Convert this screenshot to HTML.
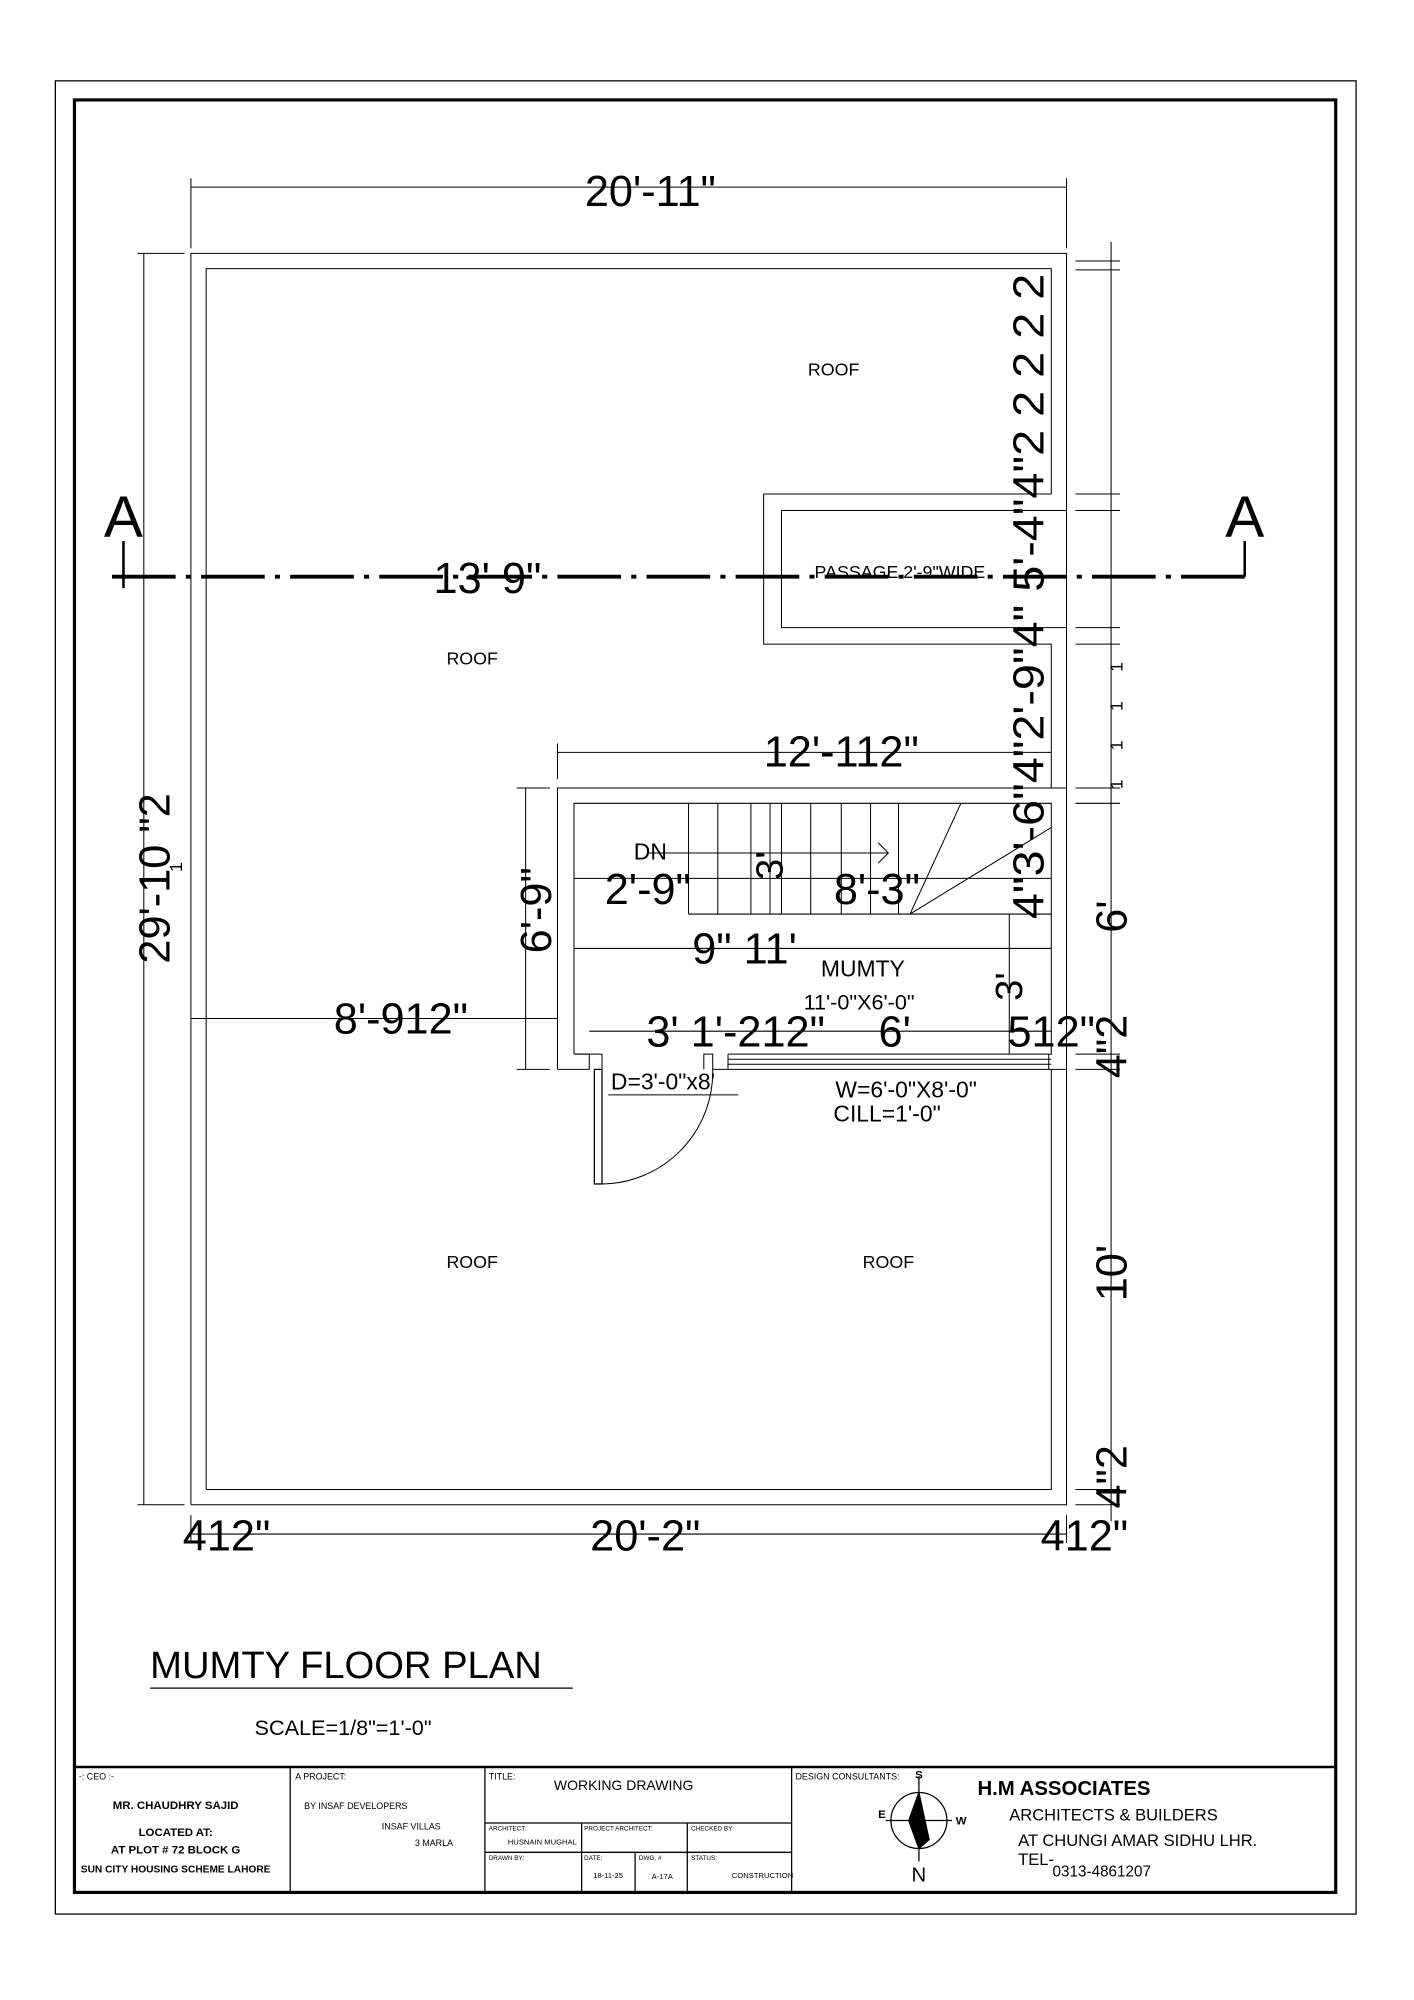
<!DOCTYPE html>
<html><head><meta charset="utf-8"><style>
html,body{margin:0;padding:0;background:#fff;}
svg{display:block}
text{font-family:"Liberation Sans",sans-serif;fill:#000}
.d{font-size:34px}
.c{font-family:"Liberation Sans Narrow","Liberation Sans",sans-serif}
</style></head><body>
<svg width="1414" height="2000" viewBox="0 0 1111 1571" preserveAspectRatio="none" xmlns="http://www.w3.org/2000/svg">
<rect width="1111" height="1571" fill="#fff"/>
<g fill="none" stroke="#000">
<rect x="43.5" y="63.5" width="1022" height="1440" stroke-width="1"/>
<rect x="58.5" y="78.5" width="991" height="1408" stroke-width="2.5"/>
<g stroke-width="0.8">
<polyline points="150,1182 838,1182 838,199 150,199 150,1182"/>
<polyline points="162,1170 826,1170 826,840"/>
<polyline points="162,1170 162,211 826,211 826,388 600,388 600,506 826,506 826,619"/>
<polyline points="614,401 838,401"/><polyline points="614,401 614,493 838,493"/>
<polyline points="438,840 438,619 838,619"/>
<polyline points="451,828 451,631 826,631 826,828 572,828"/>
<polyline points="438,840 463,840"/><polyline points="560,840 838,840"/>
<polyline points="451,828 463,828 463,840"/><polyline points="473,840 473,828 451,828"/>
<polyline points="560,840 560,828 553,828 553,840"/>
<line x1="572" y1="832" x2="826" y2="832"/><line x1="572" y1="836" x2="826" y2="836"/>
<line x1="572" y1="828" x2="572" y2="840"/><line x1="824" y1="828" x2="824" y2="840"/>
<line x1="541" y1="631" x2="541" y2="718"/><line x1="541" y1="718" x2="826" y2="718"/>
<line x1="564" y1="631" x2="564" y2="718"/><line x1="590" y1="631" x2="590" y2="718"/>
<line x1="614" y1="631" x2="614" y2="718"/><line x1="637" y1="631" x2="637" y2="718"/>
<line x1="661" y1="631" x2="661" y2="718"/><line x1="684" y1="631" x2="684" y2="718"/>
<line x1="706" y1="631" x2="706" y2="718"/>
<line x1="715" y1="718" x2="755" y2="631"/><line x1="715" y1="718" x2="826" y2="650"/>
<line x1="510" y1="670" x2="698" y2="670"/><polyline points="690,662 698,670 690,678"/>
<rect x="467" y="840" width="6" height="90" stroke-width="1"/>
<path d="M473,930 A88,88 0 0 0 560,840"/>
<line x1="478" y1="860" x2="580" y2="860"/>
<line x1="150" y1="147" x2="838" y2="147"/><line x1="150" y1="140" x2="150" y2="195"/><line x1="838" y1="140" x2="838" y2="195"/>
<line x1="113" y1="199" x2="113" y2="1182"/><line x1="108" y1="199" x2="145" y2="199"/><line x1="108" y1="1182" x2="145" y2="1182"/>
<line x1="150" y1="1205" x2="838" y2="1205"/><line x1="150" y1="1190" x2="150" y2="1212"/><line x1="838" y1="1190" x2="838" y2="1212"/>
<line x1="873" y1="190" x2="873" y2="1195"/>
<line x1="845" y1="205" x2="880" y2="205"/><line x1="845" y1="212" x2="880" y2="212"/>
<line x1="845" y1="388" x2="880" y2="388"/><line x1="845" y1="401" x2="880" y2="401"/>
<line x1="845" y1="493" x2="880" y2="493"/><line x1="845" y1="506" x2="880" y2="506"/>
<line x1="845" y1="619" x2="880" y2="619"/><line x1="845" y1="631" x2="880" y2="631"/>
<line x1="845" y1="828" x2="880" y2="828"/><line x1="845" y1="840" x2="880" y2="840"/>
<line x1="845" y1="1170" x2="880" y2="1170"/><line x1="845" y1="1182" x2="880" y2="1182"/>
<line x1="438" y1="591" x2="826" y2="591"/><line x1="438" y1="584" x2="438" y2="612"/>
<line x1="413" y1="619" x2="413" y2="840"/><line x1="406" y1="619" x2="432" y2="619"/><line x1="406" y1="840" x2="432" y2="840"/>
<line x1="150" y1="800" x2="438" y2="800"/>
<line x1="451" y1="690" x2="826" y2="690"/><line x1="451" y1="745" x2="826" y2="745"/>
<line x1="605" y1="631" x2="605" y2="718"/><line x1="793" y1="718" x2="793" y2="828"/>
<line x1="463" y1="810" x2="826" y2="810"/>
</g>
<line x1="88" y1="453" x2="978" y2="453" stroke-width="3" stroke-dasharray="50,8,4,8"/>
<line x1="97" y1="425" x2="97" y2="462" stroke-width="2"/>
<line x1="978" y1="425" x2="978" y2="453" stroke-width="2"/>
</g>
<text x="97" y="422" font-size="46" text-anchor="middle">A</text>
<text x="978" y="422" font-size="46" text-anchor="middle">A</text>
<g class="d c">
<text x="511" y="162" text-anchor="middle">20'-11"</text>
<text x="383" y="466" text-anchor="middle">13' 9"</text>
<text x="661" y="602" text-anchor="middle">12'-112"</text>
<text x="315" y="812" text-anchor="middle">8'-912"</text>
<text x="509" y="710" text-anchor="middle">2'-9"</text>
<text x="689" y="710" text-anchor="middle">8'-3"</text>
<text x="585" y="757" text-anchor="middle">9" 11'</text>
<text x="578" y="822" text-anchor="middle">3' 1'-212"</text>
<text x="703" y="822" text-anchor="middle">6'</text>
<text x="826" y="822" text-anchor="middle">512"</text>
<text x="178" y="1218" text-anchor="middle">412"</text>
<text x="507" y="1218" text-anchor="middle">20'-2"</text>
<text x="852" y="1218" text-anchor="middle">412"</text>
<text transform="translate(133,690) rotate(-90)" text-anchor="middle">29'-10 "2</text>
<text transform="translate(433,715) rotate(-90)" text-anchor="middle">6'-9"</text>
<text transform="translate(615,680) rotate(-90)" text-anchor="middle" font-size="30">3'</text>
<text transform="translate(803,775) rotate(-90)" text-anchor="middle" font-size="30">3'</text>
<text transform="translate(820,722) rotate(-90)" textLength="507" lengthAdjust="spacingAndGlyphs">4"3'-6"4"2'-9"4" 5'-4"4"2 2 2 2 2</text>
<text transform="translate(885,720) rotate(-90)" text-anchor="middle">6'</text>
<text transform="translate(885,1000) rotate(-90)" text-anchor="middle">10'</text>
<text transform="translate(885,1160) rotate(-90)" text-anchor="middle">4"2</text>
<text transform="translate(885,822) rotate(-90)" text-anchor="middle">4"2</text>
</g>
<text transform="translate(882,620) rotate(-90)" font-size="14" textLength="100">1   1   1   1</text>
<text transform="translate(143,685) rotate(-90)" font-size="14">1</text>
<g font-size="14">
<text x="655" y="295" text-anchor="middle">ROOF</text>
<text x="371" y="522" text-anchor="middle">ROOF</text>
<text x="371" y="996" text-anchor="middle">ROOF</text>
<text x="698" y="996" text-anchor="middle">ROOF</text>
<text x="640" y="454">PASSAGE 2'-9"WIDE</text>
</g>
<text x="511" y="675" font-size="18" text-anchor="middle">DN</text>
<text x="678" y="767" font-size="18" text-anchor="middle">MUMTY</text>
<text x="675" y="793" font-size="17" text-anchor="middle">11'-0"X6'-0"</text>
<text x="480" y="856" font-size="18" class="c">D=3'-0"x8'</text>
<text x="712" y="862" font-size="18" text-anchor="middle" class="c">W=6'-0"X8'-0"</text>
<text x="697" y="881" font-size="18" text-anchor="middle" class="c">CILL=1'-0"</text>
<text x="118" y="1318" font-size="30" fill="#222">MUMTY FLOOR PLAN</text>
<line x1="118" y1="1326" x2="450" y2="1326" stroke="#000" stroke-width="1"/>
<text x="200" y="1363" font-size="17" fill="#444">SCALE=1/8"=1'-0"</text>
<g fill="none" stroke="#000">
<line x1="58" y1="1388" x2="1049" y2="1388" stroke-width="2"/>
<line x1="228" y1="1388" x2="228" y2="1486"/><line x1="381" y1="1388" x2="381" y2="1486"/><line x1="622" y1="1388" x2="622" y2="1486"/>
<line x1="381" y1="1432" x2="622" y2="1432"/><line x1="381" y1="1455" x2="622" y2="1455"/>
<line x1="457" y1="1432" x2="457" y2="1486"/><line x1="540" y1="1432" x2="540" y2="1486"/><line x1="499" y1="1455" x2="499" y2="1486"/>
<circle cx="722" cy="1430" r="22"/><line x1="722" y1="1395" x2="722" y2="1462"/><line x1="696" y1="1430" x2="748" y2="1430"/>
<polygon points="722,1408 714,1430 722,1452 730,1445" fill="#000"/>
</g>
<g font-size="7">
<text x="62" y="1398">-: CEO :-</text>
<text x="232" y="1398">A PROJECT:</text>
<text x="384" y="1398">TITLE:</text>
<text x="625" y="1398">DESIGN CONSULTANTS:</text>
<text x="384" y="1438" font-size="5">ARCHITECT:</text>
<text x="459" y="1438" font-size="5">PROJECT ARCHITECT:</text>
<text x="543" y="1438" font-size="5">CHECKED BY:</text>
<text x="399" y="1449" font-size="6">HUSNAIN MUGHAL</text>
<text x="384" y="1461" font-size="5">DRAWN BY:</text>
<text x="459" y="1461" font-size="5">DATE:</text>
<text x="502" y="1461" font-size="5">DWG. #</text>
<text x="543" y="1461" font-size="5">STATUS:</text>
<text x="466" y="1475" font-size="6">18-11-25</text>
<text x="512" y="1476" font-size="6">A-17A</text>
<text x="575" y="1475" font-size="6">CONSTRUCTION</text>
<text x="239" y="1421">BY INSAF DEVELOPERS</text>
<text x="300" y="1437">INSAF VILLAS</text>
<text x="326" y="1450">3 MARLA</text>
</g>
<g font-size="9" font-weight="bold" text-anchor="middle">
<text x="138" y="1421">MR. CHAUDHRY SAJID</text>
<text x="138" y="1442">LOCATED AT:</text>
<text x="138" y="1456">AT PLOT # 72 BLOCK G</text>
<text x="138" y="1471" font-size="8">SUN CITY HOUSING SCHEME LAHORE</text>
</g>
<text x="490" y="1406" font-size="11" text-anchor="middle">WORKING DRAWING</text>
<text x="722" y="1397" font-size="9" font-weight="bold" text-anchor="middle" font-family="Liberation Serif">S</text>
<text x="690" y="1428" font-size="9" font-weight="bold" font-family="Liberation Serif">E</text>
<text x="751" y="1433" font-size="9" font-weight="bold" font-family="Liberation Serif">W</text>
<text x="722" y="1478" font-size="16" text-anchor="middle">N</text>
<text x="768" y="1410" font-size="16" font-weight="bold" font-family="Liberation Serif">H.M  ASSOCIATES</text>
<text x="793" y="1430" font-size="13">ARCHITECTS &amp; BUILDERS</text>
<text x="800" y="1450" font-size="13">AT CHUNGI AMAR SIDHU LHR.</text>
<text x="800" y="1465" font-size="13">TEL-</text>
<text x="827" y="1474" font-size="12">0313-4861207</text>
</svg>
</body></html>
